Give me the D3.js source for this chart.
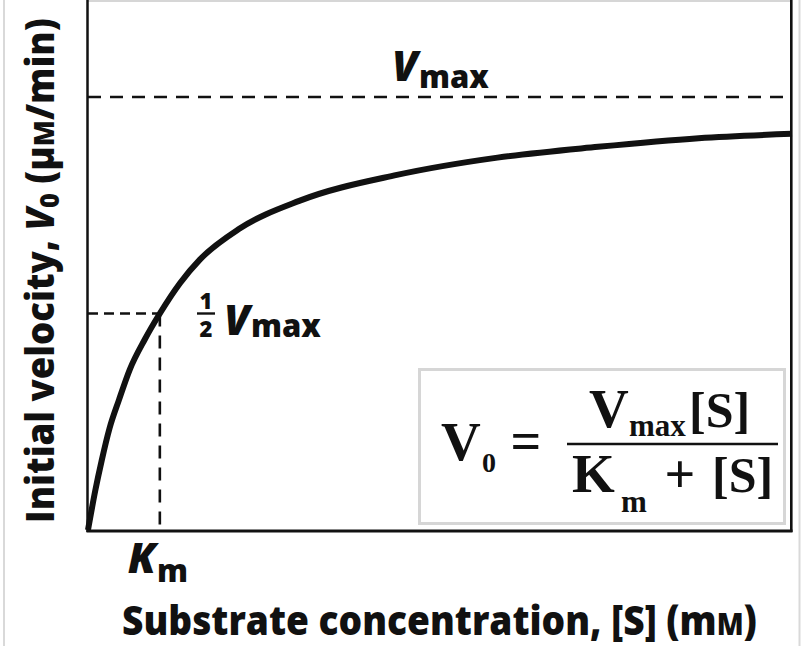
<!DOCTYPE html>
<html>
<head>
<meta charset="utf-8">
<script src="https://cdn.jsdelivr.net/npm/d3@7"></script>
<style>
  html, body { margin: 0; padding: 0; background: #fff; }
  svg { display: block; }
  .sans { font-family: "Open Sans", "Noto Sans", sans-serif; font-weight: 800; fill: #111; }
  .serif { font-family: "Liberation Serif", "Times New Roman", serif; font-weight: 700; fill: #111; }
</style>
</head>
<body>
<svg id="chart" width="802" height="646"></svg>
<script>
// Michaelis–Menten saturation curve: substrate concentration vs initial velocity
const substrate = [0, 0.1, 0.19, 0.3, 0.43, 0.58, 0.79, 1, 1.28, 1.56, 2.1, 2.94, 4.3, 5.7, 7.1, 8.5, 9.8];
const velocity  = [0, 9, 16, 23.5, 30, 37, 44, 50, 57, 62.5, 69.5, 76, 82, 86, 88.5, 90.5, 91.5];
const vmax = 100;
const km = 1;
const axisTitles = ["Initial velocity, ", "Substrate concentration, [S] (m"];

const W = 802, H = 646;
const left = 88, right = 792, bottom = 530, vmaxY = 97;

const svg = d3.select("#chart");
svg.append("rect").attr("width", W).attr("height", H).attr("fill", "#fff");

const x = d3.scaleLinear().domain([0, d3.max(substrate)]).range([left, right]);
const y = d3.scaleLinear().domain([0, vmax]).range([bottom, vmaxY]);

// outer page edges
svg.append("line").attr("x1", 4).attr("x2", 4).attr("y1", 0).attr("y2", H)
  .attr("stroke", "#d9d9d9").attr("stroke-width", 2);
svg.append("line").attr("x1", 799.5).attr("x2", 799.5).attr("y1", 0).attr("y2", H)
  .attr("stroke", "#d9d9d9").attr("stroke-width", 2);

// plot frame top edge
svg.append("line").attr("x1", left).attr("x2", 791).attr("y1", 1).attr("y2", 1)
  .attr("stroke", "#c8c8c8").attr("stroke-width", 1.5);

const dash = "13,9";

// Vmax asymptote
svg.append("line")
  .attr("x1", x(0)).attr("x2", 791).attr("y1", y(vmax)).attr("y2", y(vmax))
  .attr("stroke", "#111").attr("stroke-width", 2.6).attr("stroke-dasharray", dash);

// half-Vmax guide and Km drop line
svg.append("line")
  .attr("x1", x(0)).attr("x2", x(km)).attr("y1", y(vmax / 2)).attr("y2", y(vmax / 2))
  .attr("stroke", "#111").attr("stroke-width", 2.6).attr("stroke-dasharray", "10,6");
svg.append("line")
  .attr("x1", x(km)).attr("x2", x(km)).attr("y1", y(vmax / 2)).attr("y2", y(0))
  .attr("stroke", "#111").attr("stroke-width", 2.6).attr("stroke-dasharray", dash);

// formula box
const box = svg.append("g");
box.append("rect").attr("x", 419.5).attr("y", 369.5).attr("width", 365).attr("height", 154)
  .attr("fill", "#fff").attr("stroke", "#d6d6d6").attr("stroke-width", 3);

// saturation curve
const pts = substrate.map((s, i) => [s, velocity[i]]);
const line = d3.line().x(d => x(d[0])).y(d => y(d[1])).curve(d3.curveMonotoneX);
svg.append("path").datum(pts).attr("d", line)
  .attr("fill", "none").attr("stroke", "#111").attr("stroke-width", 6)
  .attr("stroke-linejoin", "round");

// axes lines (left, bottom, right)
svg.append("line").attr("x1", 87.5).attr("x2", 87.5).attr("y1", 0).attr("y2", 532)
  .attr("stroke", "#111").attr("stroke-width", 2.5);
svg.append("line").attr("x1", 86.5).attr("x2", 792.5).attr("y1", 531).attr("y2", 531)
  .attr("stroke", "#111").attr("stroke-width", 3);
svg.append("line").attr("x1", 791.3).attr("x2", 791.3).attr("y1", 0).attr("y2", 532)
  .attr("stroke", "#111").attr("stroke-width", 2.6);

// formula text
const f = box.append("g").attr("class", "serif");
f.append("text").attr("x", 441).attr("y", 460).attr("font-size", 55).text("V");
f.append("text").attr("x", 482).attr("y", 472).attr("font-size", 28).text("0");
f.append("text").attr("x", 526).attr("y", 459).attr("font-size", 54).attr("text-anchor", "middle").text("=");
f.append("line").attr("x1", 567).attr("x2", 778).attr("y1", 444).attr("y2", 444)
  .attr("stroke", "#111").attr("stroke-width", 2.4);
f.append("text").attr("x", 589).attr("y", 427).attr("font-size", 55).text("V");
f.append("text").attr("x", 629).attr("y", 436).attr("font-size", 31).text("max");
f.append("text").attr("x", 689).attr("y", 427).attr("font-size", 50).text("[S]");
f.append("text").attr("x", 572).attr("y", 492).attr("font-size", 55).text("K");
f.append("text").attr("x", 621).attr("y", 512).attr("font-size", 31).text("m");
f.append("text").attr("x", 680).attr("y", 492).attr("font-size", 54).attr("text-anchor", "middle").text("+");
f.append("text").attr("x", 712).attr("y", 492).attr("font-size", 50).text("[S]");

// Vmax label
const vl = svg.append("text").attr("class", "sans")
  .attr("x", 392).attr("y", y(vmax) - 16);
vl.append("tspan").attr("font-size", 42).attr("font-style", "italic").text("V");
vl.append("tspan").attr("font-size", 31).attr("dy", 7).attr("dx", 1).text("max");

// half-Vmax label
const hl = svg.append("g").attr("class", "sans");
hl.append("text").attr("x", 206).attr("y", 309).attr("font-size", 22).attr("text-anchor", "middle").text("1");
hl.append("line").attr("x1", 197).attr("x2", 215).attr("y1", 313.5).attr("y2", 313.5)
  .attr("stroke", "#111").attr("stroke-width", 2.4);
hl.append("text").attr("x", 206).attr("y", 337).attr("font-size", 22).attr("text-anchor", "middle").text("2");
const hv = hl.append("text").attr("x", 224).attr("y", 335);
hv.append("tspan").attr("font-size", 42).attr("font-style", "italic").text("V");
hv.append("tspan").attr("font-size", 31).attr("dy", 2).attr("dx", 1).text("max");

// Km label
const kl = svg.append("text").attr("class", "sans").attr("x", x(km) - 32).attr("y", 573);
kl.append("tspan").attr("font-size", 42).attr("font-style", "italic").text("K");
kl.append("tspan").attr("font-size", 31).attr("dy", 9).attr("dx", 1).text("m");

// axis titles, stretched to their set lengths
function stretch(t, target, pre) {
  const b = t.node().getBBox();
  const k = target / b.width;
  t.attr("transform", `${pre} scale(${k},1) translate(${-b.x},0)`);
}

const yt = svg.append("text").attr("class", "sans").attr("font-size", 39);
yt.append("tspan").text(axisTitles[0]);
yt.append("tspan").attr("font-style", "italic").text("V");
yt.append("tspan").attr("font-size", 27).attr("dy", 5).text("0");
yt.append("tspan").attr("dy", -5).text(" (µ");
yt.append("tspan").attr("font-size", 29).text("M");
yt.append("tspan").text("/min)");
stretch(yt, 505, "translate(54,523) rotate(-90)");

const xt = svg.append("text").attr("class", "sans").attr("font-size", 40);
xt.append("tspan").text(axisTitles[1]);
xt.append("tspan").attr("font-size", 30).text("M");
xt.append("tspan").text(")");
stretch(xt, 635, "translate(122,635)");
</script>
</body>
</html>
